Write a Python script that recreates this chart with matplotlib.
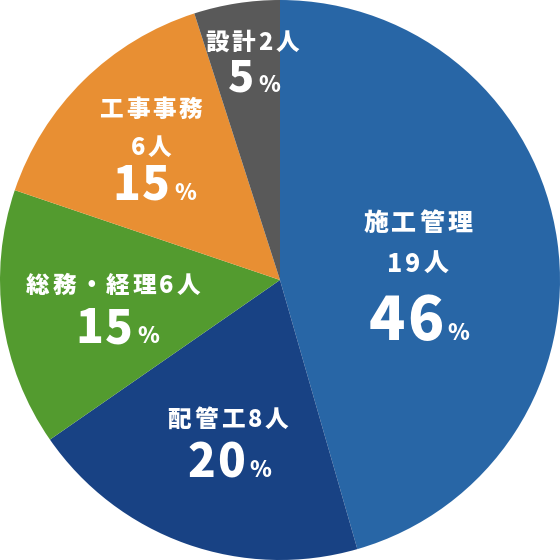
import matplotlib
matplotlib.use("Agg")
import matplotlib.pyplot as plt
from matplotlib.transforms import offset_copy

plt.rcParams['font.family'] = ['Noto Sans CJK JP', 'DejaVu Sans']

# ---- data ----
categories = ["施工管理", "配管工", "総務・経理", "工事事務", "設計"]
people = [19, 8, 6, 6, 2]
percents = [46, 20, 15, 15, 5]
colors = ["#2866a6", "#184284", "#539b2f", "#e88f33", "#595959"]

# ---- label layout (pixel positions in the 560px image; y = baseline) ----
name_lines = [
    [("施工管理", 418, 231), ("19人", 418, 272)],
    [("配管工8人", 228, 427)],
    [("総務・経理6人", 113, 293)],
    [("工事事務", 151, 117), ("6人", 151, 155)],
    [("設計2人", 252, 50)],
]
name_size = [18, 17, 17, 17, 17]
number_pos = [(419, 340), (229, 477), (117, 343), (154, 200), (254, 92)]
number_size = [43, 33, 33, 33, 31]
number_gap = [2, 2, 2, 2, 0]

W = 560.0

fig = plt.figure(figsize=(5.6, 5.6), dpi=100)
ax = fig.add_axes([0, 0, 1, 1])
ax.pie(percents, colors=colors, startangle=90, counterclock=False,
       radius=1.0, wedgeprops=dict(linewidth=0))
ax.set_xlim(-1, 1)
ax.set_ylim(-1, 1)
ax.set_aspect('equal')
ax.axis('off')

renderer = fig.canvas.get_renderer()


def px2d(x, y):
    return (x - W / 2) / (W / 2), (W / 2 - y) / (W / 2)


def text_width(s, size, weight):
    t = ax.text(0, 0, s, fontsize=size, fontweight=weight)
    w = t.get_window_extent(renderer).width
    t.remove()
    return w


def advance(ch, size, weight):
    return text_width('|' + ch + '|', size, weight) - text_width('||', size, weight)


def draw_run(cx, by, items, weight='bold'):
    """items: list of (char, size, gap_before_px); centred at cx, baseline by."""
    advs = [advance(ch, s, weight) for ch, s, g in items]
    total = sum(advs) + sum(g for _, _, g in items[1:])
    X, Y = px2d(cx, by)
    cur = -total / 2
    for k, ((ch, s, g), a) in enumerate(zip(items, advs)):
        if k > 0:
            cur += g
        tr = offset_copy(ax.transData, fig=fig, x=cur + a / 2, y=0, units='dots')
        ax.text(X, Y, ch, transform=tr, ha='center', va='baseline',
                color='white', fontsize=s, fontweight=weight)
        cur += a


for i in range(len(categories)):
    for txt, px, py in name_lines[i]:
        draw_run(px, py, [(c, name_size[i], 3) for c in txt], weight='heavy')
    num = str(percents[i])
    items = [(c, number_size[i], number_gap[i]) for c in num]
    items.append(('%', 16, 4))
    cx, by = number_pos[i]
    draw_run(cx, by, items, weight='heavy')

fig.savefig("out.png", dpi=100, facecolor='white')
